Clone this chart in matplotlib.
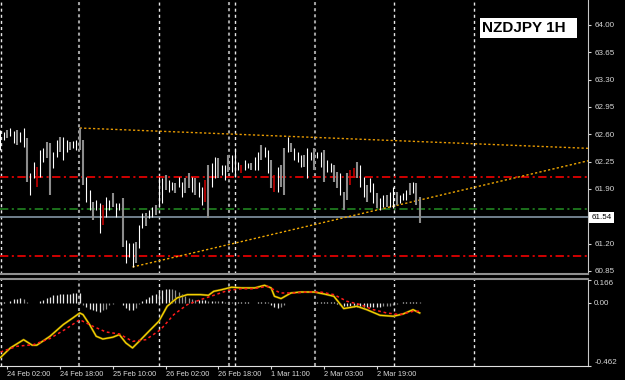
import numpy as np
import matplotlib
matplotlib.use('Agg')
import matplotlib.pyplot as plt
from matplotlib.patches import Rectangle

plt.rcParams['font.family'] = ['Liberation Sans', 'DejaVu Sans']
plt.rcParams['lines.scale_dashes'] = False

## hourly bars (high / low), w = up, g = down, r = marked
highs = [62.65, 62.63, 62.65, 62.68, 62.64, 62.65, 62.63, 62.68, 62.55, 62.10,
         62.24, 62.18, 62.40, 62.42, 62.50, 62.49, 62.37, 62.53, 62.56, 62.56,
         62.53, 62.50, 62.51, 62.53, 62.68, 62.53, 62.05, 61.88, 61.73, 61.76,
         61.72, 61.69, 61.79, 61.76, 61.85, 61.72, 61.72, 61.78, 61.24, 61.21,
         61.21, 61.22, 61.44, 61.59, 61.59, 61.63, 61.67, 61.69, 62.05, 62.04,
         62.08, 62.01, 61.99, 61.97, 62.05, 61.99, 62.04, 62.10, 62.05, 62.04,
         61.99, 61.92, 62.01, 62.21, 62.23, 62.31, 62.29, 62.21, 62.21, 62.33,
         62.33, 62.42, 62.24, 62.21, 62.27, 62.23, 62.23, 62.31, 62.37, 62.46,
         62.44, 62.40, 62.27, 62.08, 62.18, 62.21, 62.42, 62.56, 62.49, 62.42,
         62.37, 62.33, 62.33, 62.42, 62.37, 62.42, 62.37, 62.37, 62.40, 62.27,
         62.23, 62.21, 62.12, 62.10, 61.86, 62.10, 62.14, 62.17, 62.24, 62.21,
         62.05, 61.95, 62.04, 61.97, 61.85, 61.78, 61.82, 61.82, 61.86, 61.92,
         61.86, 61.82, 61.85, 61.88, 61.97, 61.99, 61.97, 61.79]
lows = [62.40, 62.53, 62.55, 62.58, 62.49, 62.46, 62.50, 62.44, 61.99, 61.82,
        62.04, 61.92, 62.05, 62.24, 62.29, 61.82, 62.17, 62.31, 62.37, 62.27,
        62.37, 62.40, 62.42, 62.40, 62.40, 61.95, 61.73, 61.63, 61.50, 61.63,
        61.33, 61.44, 61.54, 61.63, 61.67, 61.54, 61.63, 61.15, 60.95, 61.03,
        60.90, 60.95, 61.14, 61.40, 61.42, 61.53, 61.54, 61.56, 61.67, 61.72,
        61.88, 61.86, 61.88, 61.85, 61.92, 61.79, 61.85, 61.91, 61.86, 61.82,
        61.79, 61.69, 61.73, 61.53, 61.92, 62.04, 62.04, 62.08, 62.01, 62.12,
        62.12, 62.05, 62.14, 62.10, 62.14, 62.17, 62.14, 62.14, 62.14, 62.27,
        62.31, 62.10, 61.91, 61.86, 61.86, 61.92, 61.82, 62.37, 62.37, 62.27,
        62.24, 62.18, 62.18, 62.04, 62.27, 62.14, 62.29, 62.18, 61.99, 62.12,
        62.12, 61.99, 61.91, 61.82, 61.63, 61.76, 61.95, 62.05, 62.04, 61.92,
        61.79, 61.73, 61.86, 61.72, 61.65, 61.63, 61.67, 61.67, 61.67, 61.65,
        61.69, 61.72, 61.76, 61.76, 61.82, 61.85, 61.69, 61.46]
kinds = ("wwgwwgwwgw" "wrwwggwwgw" "wgwwggwwgw" "wrwwgwwgww" "wgwwgwwgww"
         "gwwgwwggwg" "wwrgwwgwwg" "wwwrwwgwwg" "wwgrwggwgw" "wwgwwgwwgw"
         "wggwggrrgw" "wgwwgwwgww" "gwwwgwgg")

## oscillator panel
hist = [0.005, 0.008, 0.0, 0.015, 0.025, 0.030, 0.035, 0.025, 0.005, 0.0,
        0.0, 0.0, 0.012, 0.022, 0.034, 0.041, 0.053, 0.058, 0.066, 0.066,
        0.066, 0.066, 0.068, 0.070, 0.073, -0.019, -0.032, -0.044, -0.056, -0.063,
        -0.068, -0.056, -0.044, -0.019, -0.007, 0.0, 0.0, -0.019, -0.039, -0.056,
        -0.056, -0.039, -0.010, 0.010, 0.024, 0.041, 0.054, 0.066, 0.078, 0.090,
        0.102, 0.102, 0.097, 0.090, 0.078, 0.066, 0.049, 0.034, 0.024, 0.017,
        0.017, 0.017, 0.017, 0.015, 0.015, 0.012, 0.010, 0.010, 0.008, 0.005,
        0.003, 0.003, 0.003, 0.003, 0.003, 0.003, 0.0, 0.0, 0.003, 0.005,
        0.005, 0.003, -0.019, -0.032, -0.039, -0.032, -0.015, 0.0, -0.003, -0.003,
        -0.003, -0.003, 0.0, 0.0, 0.0, 0.003, 0.005, 0.005, 0.005, 0.005,
        0.005, 0.005, -0.012, -0.019, -0.022, -0.024, -0.026, -0.029, -0.029, -0.029,
        -0.029, -0.029, -0.029, -0.029, -0.029, -0.029, -0.026, -0.024, -0.022, -0.019,
        -0.010, 0.0, 0.003, 0.005, 0.005, 0.005, 0.005, 0.003]
main_x = [0, 3, 7, 9.6, 11, 15, 19, 22, 24, 25, 27, 29, 31, 34, 36, 38, 40, 42, 45, 48,
          50.5, 53.5, 56.6, 60.6, 63, 64.6, 67, 70, 73, 77, 80, 82, 83, 85, 88, 91, 95,
          98, 101, 104, 108, 111, 115, 119, 122, 125, 127]
main_line = [-0.40, -0.33, -0.27, -0.31, -0.31, -0.245, -0.16, -0.11, -0.075, -0.087,
             -0.16, -0.245, -0.265, -0.252, -0.233, -0.294, -0.33, -0.282, -0.208, -0.135,
             -0.026, 0.035, 0.059, 0.059, 0.054, 0.083, 0.095, 0.113, 0.108, 0.108,
             0.127, 0.108, 0.047, 0.030, 0.071, 0.078, 0.078, 0.064, 0.047, -0.043,
             -0.026, -0.051, -0.092, -0.099, -0.082, -0.051, -0.075]
sig_x = [0, 5, 10, 15, 20, 24, 28, 32, 36, 40, 44, 48.5, 52.5, 56.6, 60.6, 64.6, 68.7,
         72.7, 76.8, 80.8, 84.8, 88.9, 93, 97, 101, 105, 109, 113, 117, 121, 125, 127]
sig_line = [-0.36, -0.318, -0.306, -0.261, -0.189, -0.124, -0.172, -0.214, -0.228, -0.282,
            -0.270, -0.197, -0.087, -0.014, 0.022, 0.054, 0.088, 0.102, 0.102, 0.120,
            0.071, 0.071, 0.078, 0.078, 0.059, 0.010, -0.014, -0.051, -0.075, -0.087,
            -0.063, -0.063]

## levels, trendlines, grid, labels
level_red = [62.05, 61.04]
level_green = 61.64
last_price = 61.54
upper_trend = ([24, 178], [62.68, 62.42])
lower_trend = ([40, 178], [60.90, 62.26])
grid_white = [0.1, 48.0, 71.1, 119.2, 143.5]
grid_gray = [23.8, 69.2, 95.3]
price_ticks = [64.00, 63.65, 63.30, 62.95, 62.60, 62.25, 61.90, 61.20, 60.85]
time_idx = [2, 18, 34, 50, 66, 82, 98, 114]
time_labels = ['24 Feb 02:00', '24 Feb 18:00', '25 Feb 10:00', '26 Feb 02:00',
               '26 Feb 18:00', '1 Mar 11:00', '2 Mar 03:00', '2 Mar 19:00']

W, H = 625, 380
fig = plt.figure(figsize=(W / 100, H / 100), dpi=100, facecolor='black')
ax = fig.add_axes([0, 1 - 274 / H, 588 / W, 274 / H])
ax2 = fig.add_axes([0, 1 - 366 / H, 588 / W, 87 / H])

xlim = (-0.15, 178.0)
for a in (ax, ax2):
    a.set_facecolor('black')
    a.set_xlim(*xlim)
    a.spines['left'].set_visible(False)
    a.spines['right'].set_color('#c8c8c8')
    a.yaxis.tick_right()
    for g in grid_white:
        a.axvline(g, color='#e8e8e8', lw=1, ls=(0, (2.2, 2.2)), zorder=1)
    for g in grid_gray:
        a.axvline(g, color='#a0a0a0', lw=1.5, ls=(0, (2.2, 2.2)), zorder=1)

ax.set_ylim(60.81, 64.32)
ax.spines['top'].set_visible(False)
ax.spines['bottom'].set_color('#909090')
ax.spines['bottom'].set_linewidth(1.5)
ax2.spines['top'].set_color('#909090')
ax2.spines['top'].set_linewidth(1.5)
ax2.spines['bottom'].set_color('#e0e0e0')

# horizontal levels
for lv in level_red:
    ax.axhline(lv, color='#e00000', lw=1.3, ls=(0, (6, 2.5, 1.5, 2.5)), zorder=2)
ax.axhline(level_green, color='#1e7a1e', lw=1.3, ls=(0, (6, 2.5, 1.5, 2.5)), zorder=2)
ax.axhline(last_price, color='#8494a4', lw=1.2, zorder=2)

# trendlines
ax.plot(*upper_trend, color='#e89a00', lw=1, ls=(0, (1.6, 1.6)), zorder=3)
ax.plot(*lower_trend, color='#f0a800', lw=1, ls=(0, (1.6, 1.6)), zorder=3)

# bars
xs = np.arange(len(highs))
hi = np.array(highs)
lo = np.array(lows)
kk = np.array(list(kinds))
bar_style = {'g': ('#8c8c8c', 1.5), 'w': ('#ffffff', 0.8), 'r': ('#d40000', 1.1)}
for k, (c, w) in bar_style.items():
    m = kk == k
    ax.vlines(xs[m], lo[m], hi[m], colors=c, lw=w, zorder=4)

ax.set_yticks(price_ticks, [f'{v:.2f}' for v in price_ticks])
ax.tick_params(axis='y', colors='#d8d8d8', labelsize=5.8, length=2.5, width=0.8, pad=2)
ax.tick_params(axis='x', bottom=False, labelbottom=False)
ax.annotate(f'{last_price:.2f}', xy=(1, last_price), xycoords=('axes fraction', 'data'),
            xytext=(2.5, 0), textcoords='offset points', fontsize=5.8, color='black',
            va='center', ha='left', annotation_clip=False,
            bbox=dict(boxstyle='square,pad=0.25', fc='white', ec='none'))

# oscillator
ax2.set_ylim(-0.462, 0.173)
hv = np.array(hist)
rising = np.diff(np.concatenate([[0], np.abs(hv)])) >= 0
ax2.vlines(xs[rising], 0, hv[rising], colors='#e8e8e8', lw=0.9, zorder=3)
ax2.vlines(xs[~rising], 0, hv[~rising], colors='#909090', lw=0.9, zorder=3)
ax2.plot(main_x, main_line, color='#7a6800', lw=1.6, zorder=4)
ax2.plot(main_x, main_line, color='#ffd800', lw=0.8, zorder=5)
ax2.plot(sig_x, sig_line, color='#ff1a1a', lw=1.1, ls=(0, (2, 2)), zorder=6)

ax2.set_yticks([0.166, 0.0, -0.462], ['0.166', '0.00', '-0.462'])
ylabs = ax2.get_yticklabels()
ylabs[0].set_va('top')
ylabs[2].set_va('bottom')
ax2.tick_params(axis='y', colors='#d8d8d8', labelsize=5.8, length=2.5, width=0.8, pad=2)
ax2.set_xticks(time_idx, time_labels)
for t in ax2.get_xticklabels():
    t.set_ha('left')
ax2.tick_params(axis='x', colors='#d8d8d8', labelsize=5.3, length=2, width=0.8, pad=1.5)

# symbol box
fig.patches.append(Rectangle((480 / W, 1 - 38 / H), 97 / W, 20 / H, transform=fig.transFigure,
                             facecolor='white', edgecolor='none'))
fig.text(482 / W, 1 - 28.5 / H, 'NZDJPY 1H', fontsize=11, fontweight='bold', color='black',
         ha='left', va='center')

fig.savefig('out.png', dpi=100, facecolor='black')
